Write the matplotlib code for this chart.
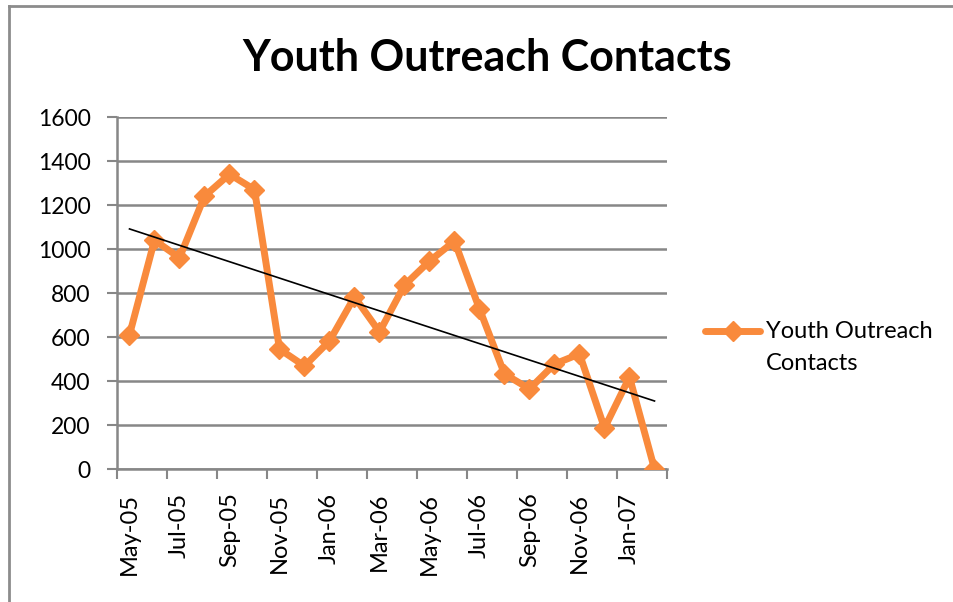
import numpy as np
import matplotlib
matplotlib.use("Agg")
import matplotlib.pyplot as plt
from matplotlib.lines import Line2D

months = ["May-05", "Jun-05", "Jul-05", "Aug-05", "Sep-05", "Oct-05", "Nov-05", "Dec-05",
          "Jan-06", "Feb-06", "Mar-06", "Apr-06", "May-06", "Jun-06", "Jul-06", "Aug-06",
          "Sep-06", "Oct-06", "Nov-06", "Dec-06", "Jan-07", "Feb-07"]
contacts = [610, 1040, 960, 1240, 1340, 1270, 545, 468, 582, 782, 623, 836,
            945, 1036, 727, 432, 364, 477, 523, 186, 418, 0]
yticks = [0, 200, 400, 600, 800, 1000, 1200, 1400, 1600]
series_name = "Youth Outreach\nContacts"

orange = "#F98A3C"
grid_gray = "#878787"
W, H = 954, 602

plt.rcParams['font.family'] = ['Lato', 'DejaVu Sans']

fig = plt.figure(figsize=(W / 100, H / 100), dpi=100)
# chart border: only top and left edges are inside the picture
fig.lines.append(Line2D([9 / W, 9 / W], [0, 1 - 6 / H], transform=fig.transFigure,
                        color="#8c8c8c", linewidth=2))
fig.lines.append(Line2D([9 / W, 1], [1 - 6 / H, 1 - 6 / H], transform=fig.transFigure,
                        color="#8c8c8c", linewidth=2))

ax = fig.add_axes([117 / W, 1 - 469 / H, (667 - 117) / W, (469 - 117) / H])
x = np.arange(len(months))

ax.plot(x, contacts, color=orange, linewidth=5, marker="D", markersize=10, zorder=3)

# linear trendline
k, b = np.polyfit(x, contacts, 1)
ax.plot(x, k * x + b, color="black", linewidth=1.2, zorder=4)

ax.set_xlim(-0.5, len(months) - 0.5)
ax.set_ylim(0, 1600)
ax.set_yticks(yticks)
ax.set_yticklabels([str(v) for v in yticks], fontsize=16.5)
ax.yaxis.grid(True, color=grid_gray, linewidth=1.8)
ax.set_axisbelow(True)

ax.set_xticks(x[::2])
ax.set_xticklabels(months[::2], rotation=90, fontsize=17)
ax.set_xticks(np.arange(-0.5, len(months), 2), minor=True)
ax.tick_params(axis="x", which="major", length=0, pad=17)
ax.tick_params(axis="x", which="minor", length=7, width=1.5, color=grid_gray, direction="out")
ax.tick_params(axis="y", length=7, width=1.5, color=grid_gray, pad=12)

for side in ["top", "right"]:
    ax.spines[side].set_visible(False)
for side in ["left", "bottom"]:
    ax.spines[side].set_color(grid_gray)
    ax.spines[side].set_linewidth(1.8)

fig.text(487 / W, 1 - 58 / H, "Youth Outreach Contacts", ha="center", va="center",
         fontsize=31, fontweight="bold")

# legend, drawn by hand so the key sits on the first text line
fig.lines.append(Line2D([705 / W, 760 / W], [1 - 331 / H, 1 - 331 / H],
                        transform=fig.transFigure, color=orange, linewidth=5,
                        solid_capstyle="round"))
fig.lines.append(Line2D([733 / W], [1 - 331 / H], transform=fig.transFigure,
                        color=orange, marker="D", markersize=10))
fig.text(766 / W, 1 - 321 / H, series_name, ha="left", va="top",
         fontsize=17, linespacing=1.65)

fig.savefig("out.png", dpi=100)
